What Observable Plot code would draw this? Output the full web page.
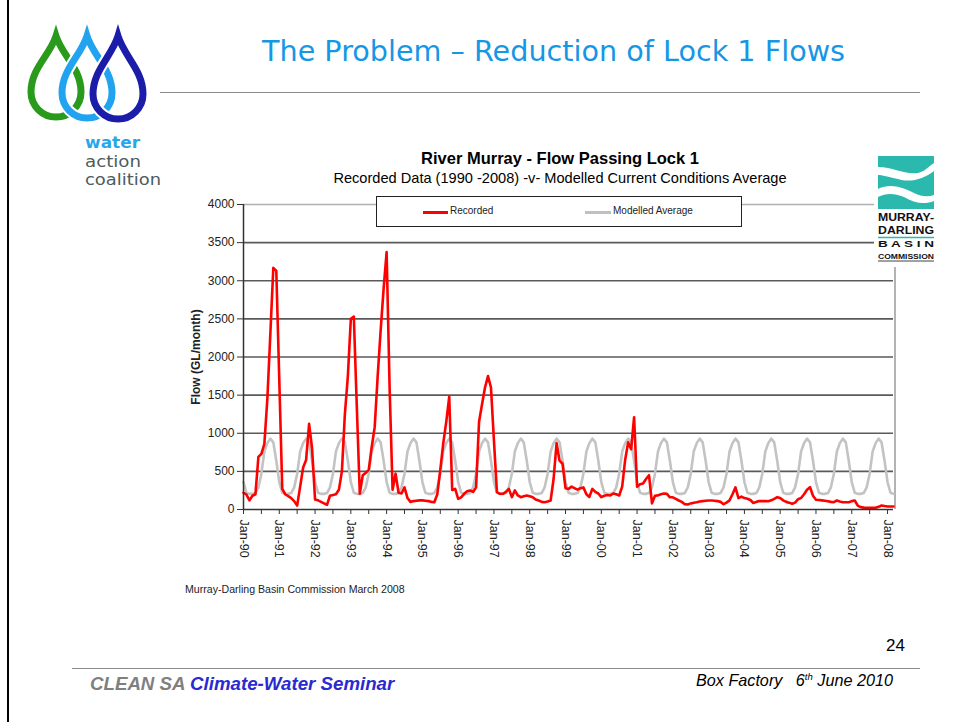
<!DOCTYPE html>
<html>
<head>
<meta charset="utf-8">
<script src="https://cdn.jsdelivr.net/npm/d3@7"></script>
<script src="https://cdn.jsdelivr.net/npm/@observablehq/plot@0.6"></script>
<style>
  html, body { margin: 0; padding: 0; background: #fff; }
  #slide { position: relative; width: 956px; height: 722px; overflow: hidden; background: #fff; font-family: "Liberation Sans", Arial, sans-serif; }
  .abs { position: absolute; white-space: nowrap; }
</style>
</head>
<body>
<div id="slide">
  <div class="abs" style="left:7px;top:0;width:2px;height:722px;background:#000"></div>
  <svg class="abs" style="left:0;top:0" width="956" height="195" id="hdr"></svg>
  <div class="abs" style="left:160px;top:92px;width:760px;height:1px;background:#8a8a8a"></div>

  <div class="abs" id="ctitle" style="left:0;width:1120px;top:149px;text-align:center;font-weight:bold;font-size:16.5px;color:#000">River Murray - Flow Passing Lock 1</div>
  <div class="abs" id="csub" style="left:0;width:1120px;top:170px;text-align:center;font-size:14.6px;color:#000">Recorded Data (1990 -2008) -v- Modelled Current Conditions Average</div>

  <div class="abs" id="chart" style="left:170px;top:190px"></div>

  <div class="abs" id="legend" style="left:376px;top:196px;width:364px;height:29px;border:1.5px solid #222;background:#fff">
    <div class="abs" style="left:46px;top:14px;width:25px;height:3px;background:#ff0000"></div>
    <div class="abs" style="left:73px;top:8px;font-size:10px;color:#222">Recorded</div>
    <div class="abs" style="left:208px;top:14px;width:26px;height:3px;background:#c0c0c0"></div>
    <div class="abs" style="left:236px;top:8px;font-size:10px;color:#222">Modelled Average</div>
  </div>

  <svg class="abs" style="left:874px;top:153px" width="66" height="114" id="mdbc"></svg>

  <div class="abs" style="left:185px;top:583px;font-size:10.6px;color:#222">Murray-Darling Basin Commission March 2008</div>
  <div class="abs" style="left:886px;top:636px;font-size:17px;color:#000">24</div>
  <div class="abs" style="left:72px;top:668px;width:848px;height:1px;background:#8a8a8a"></div>
  <div class="abs" style="left:90px;top:673px;font-size:18.7px;font-weight:bold;font-style:italic;color:#7f7f7f">CLEAN SA <span style="color:#2a2ad2">Climate-Water Seminar</span></div>
  <div class="abs" style="left:696px;top:671px;font-size:16.2px;font-style:italic;color:#000">Box Factory &nbsp;&nbsp;6<sup style="font-size:9.5px">th</sup> June 2010</div>
</div>
<script>
// ---- data (GL/month), monthly Jan-1990 .. Mar-2008 ----
const recorded1990s = [
  220, 195, 120, 180, 200, 690, 730, 860, 1450, 2300, 3170, 3130,   // 1990
  1700, 270, 200, 175, 150, 110, 52, 300, 550, 650, 1124, 800,      // 1991
  130, 120, 100, 80, 60, 180, 190, 200, 260, 500, 1250, 1750,       // 1992
  2500, 2530, 1350, 206, 450, 480, 520, 820, 1080, 1750, 2350, 2900,// 1993
  3375, 1600, 260, 470, 220, 210, 290, 150, 100, 110, 115, 120,     // 1994
  120, 115, 110, 100, 95, 200, 520, 870, 1150, 1480, 255, 270,      // 1995
  140, 160, 206, 240, 250, 230, 290, 1150, 1380, 1600, 1750, 1600,  // 1996
  900, 227, 206, 206, 230, 271, 162, 250, 184, 162, 175, 184,       // 1997
  175, 162, 130, 118, 100, 96, 105, 118, 400, 870, 640, 600,        // 1998
  280, 270, 300, 280, 260, 280, 290, 200, 165, 270, 230, 210        // 1999
];
const recorded2000s = [
  162, 180, 190, 184, 210, 200, 184, 300, 650, 880, 790, 1210,      // 2000
  300, 330, 340, 400, 450, 80, 180, 185, 200, 210, 206, 160,        // 2001
  160, 140, 118, 100, 70, 66, 80, 88, 95, 105, 110, 115,            // 2002
  118, 118, 115, 110, 100, 70, 90, 120, 200, 290, 150, 170,         // 2003
  150, 140, 125, 85, 100, 110, 110, 110, 109, 120, 140, 162,        // 2004
  150, 120, 100, 90, 75, 90, 135, 150, 200, 258, 293, 180,          // 2005
  127, 125, 120, 115, 109, 100, 96, 118, 105, 96, 96, 96,           // 2006
  110, 118, 52, 31, 25, 22, 22, 22, 22, 35, 52, 45,                 // 2007
  40, 39, 39                                                        // 2008
];
const modelled = [
  360, 220, 205, 205, 215, 290, 470, 760, 870, 930, 880, 640,
  360, 220, 205, 205, 215, 290, 470, 760, 870, 930, 880, 640,
  360, 220, 205, 205, 215, 290, 470, 760, 870, 930, 880, 640,
  360, 220, 205, 205, 215, 290, 470, 760, 870, 930, 880, 640,
  360, 220, 205, 205, 215, 290, 470, 760, 870, 930, 880, 640,
  360, 220, 205, 205, 215, 290, 470, 760, 870, 930, 880, 640,
  360, 220, 205, 205, 215, 290, 470, 760, 870, 930, 880, 640,
  360, 220, 205, 205, 215, 290, 470, 760, 870, 930, 880, 640,
  360, 220, 205, 205, 215, 290, 470, 760, 870, 930, 880, 640,
  360, 220, 205, 205, 215, 290, 470, 760, 870, 930, 880, 640,
  360, 220, 205, 205, 215, 290, 470, 760, 870, 930, 880, 640,
  360, 220, 205, 205, 215, 290, 470, 760, 870, 930, 880, 640,
  360, 220, 205, 205, 215, 290, 470, 760, 870, 930, 880, 640,
  360, 220, 205, 205, 215, 290, 470, 760, 870, 930, 880, 640,
  360, 220, 205, 205, 215, 290, 470, 760, 870, 930, 880, 640,
  360, 220, 205, 205, 215, 290, 470, 760, 870, 930, 880, 640,
  360, 220, 205, 205, 215, 290, 470, 760, 870, 930, 880, 640,
  360, 220, 205, 205, 215, 290, 470, 760, 870, 930, 880, 640,
  360, 220, 205
];
const tickLabels = ["Jan-90","Jan-91","Jan-92","Jan-93","Jan-94","Jan-95","Jan-96","Jan-97","Jan-98",
                    "Jan-99","Jan-00","Jan-01","Jan-02","Jan-03","Jan-04","Jan-05","Jan-06","Jan-07","Jan-08"];
const yTicks = [0, 500, 1000, 1500, 2000, 2500, 3000, 3500, 4000];
const yLabel = "Flow (GL/month)";

const recorded = recorded1990s.concat(recorded2000s);
const rows = recorded.map((v, i) => ({m: i, recorded: v, modelled: modelled[i]}));
const lastMonth = rows.length - 1;
const halfYearTicks = d3.range(0, lastMonth + 1, 6);

const chart = Plot.plot({
  width: 735, height: 380,
  marginLeft: 73, marginRight: 12, marginTop: 14, marginBottom: 61,
  style: {fontFamily: "'Liberation Sans', Arial, sans-serif", fontSize: "12px", color: "#222", background: "transparent", overflow: "visible"},
  x: {domain: [0, lastMonth]},
  y: {domain: [0, 4000]},
  marks: [
    Plot.ruleY(yTicks.filter(d => d > 0 && d < 4000), {stroke: "#5a5a5a", strokeWidth: 1.6}),
    Plot.ruleY([4000], {stroke: "#b0b0b0", strokeWidth: 1.5}),
    Plot.ruleX([lastMonth], {stroke: "#9a9a9a", strokeWidth: 1.5, dx: 1.5}),
    Plot.line(rows, {x: "m", y: "modelled", stroke: "#c3c3c3", strokeWidth: 2.6}),
    Plot.line(rows, {x: "m", y: "recorded", stroke: "#ff0000", strokeWidth: 2.6}),
    Plot.ruleX([0], {stroke: "#333", strokeWidth: 1.5}),
    Plot.ruleY([0], {stroke: "#333", strokeWidth: 1.5}),
    Plot.axisY({ticks: yTicks, tickSize: 6, tickPadding: 3, tickFormat: d => String(d), label: null, stroke: "#333"}),
    Plot.axisX({ticks: halfYearTicks, tickSize: 5, tickPadding: 5, tickRotate: 90,
                tickFormat: m => (m % 12 === 0 ? tickLabels[m / 12] : ""), label: null, stroke: "#333", fontSize: 12.5}),
    Plot.text([yLabel], {text: d => d, frameAnchor: "left", textAnchor: "middle", dx: -47, rotate: -90, fontWeight: "bold", fontSize: 12, fill: "#222"})
  ]
});
document.getElementById("chart").appendChild(chart);

// ---- header: slide title and logo ----
const hdr = d3.select("#hdr");
hdr.append("text").attr("x", 262).attr("y", 61)
  .attr("font-family", "DejaVu Sans").attr("font-size", 29).attr("fill", "#1597e5")
  .attr("textLength", 583).attr("lengthAdjust", "spacingAndGlyphs")
  .text("The Problem – Reduction of Lock 1 Flows");
function drop(cx, ty, cy, r) {
  const k = ty + (cy - ty) * 0.35;
  return `M${cx},${ty} C${cx - r * 0.25},${k} ${cx - r},${cy - r * 0.95} ${cx - r},${cy} A${r},${r} 0 0 0 ${cx + r},${cy} C${cx + r},${cy - r * 0.95} ${cx + r * 0.25},${k} ${cx},${ty} Z`;
}
const drops = [[56, 36, 92, 25, "#2a9a1c"], [87, 36, 93, 25, "#22a3ef"], [118, 36, 94, 25, "#1c1caa"]];
drops.forEach(([cx, ty, cy, r, c]) => {
  hdr.append("path").attr("d", drop(cx, ty, cy, r)).attr("fill", "none").attr("stroke", "#fff").attr("stroke-width", 11);
  hdr.append("path").attr("d", drop(cx, ty, cy, r)).attr("fill", "none").attr("stroke", c).attr("stroke-width", 7);
});
const wac = [["water", 148, 55, "#29a6ea", "bold"], ["action", 166.5, 56, "#4d5c5c", "normal"], ["coalition", 185, 76, "#4d5c5c", "normal"]];
wac.forEach(([t, y, w, c, fw]) => hdr.append("text").attr("x", 85).attr("y", y)
  .attr("font-family", "DejaVu Sans").attr("font-size", 15.5).attr("font-weight", fw).attr("fill", c)
  .attr("textLength", w).attr("lengthAdjust", "spacingAndGlyphs").text(t));

// ---- MDBC logo ----
const md = d3.select("#mdbc");
md.append("rect").attr("width", 66).attr("height", 114).attr("fill", "#fff");
md.append("path").attr("d", "M4,3 L60,3 L60,56 L4,56 Z").attr("fill", "#2bb9ad");
md.append("path").attr("d", "M4,14 C20,14 30,22 44,20 C52,18 56,12 60,10 L60,18 C50,26 36,30 24,26 C14,24 8,22 4,22 Z").attr("fill", "#fff");
md.append("path").attr("d", "M4,36 C16,30 28,34 40,40 C48,44 54,44 60,42 L60,48 C50,52 40,50 30,44 C20,40 12,40 4,44 Z").attr("fill", "#fff");
const mt = [["MURRAY-", 68, 10.5], ["DARLING", 81, 10.5], ["B A S I N", 94, 9], ["COMMISSION", 106, 6.5]];
mt.forEach(([t, y, s]) => md.append("text").attr("x", 4).attr("y", y).attr("font-family", "'Liberation Sans Narrow', 'Liberation Sans', Arial")
  .attr("font-weight", "bold").attr("font-size", s).attr("textLength", 56).attr("lengthAdjust", "spacingAndGlyphs").attr("fill", "#111").text(t));
md.append("line").attr("x1", 4).attr("x2", 60).attr("y1", 84.5).attr("y2", 84.5).attr("stroke", "#2bb9ad").attr("stroke-width", 1.5);
md.append("line").attr("x1", 4).attr("x2", 60).attr("y1", 108).attr("y2", 108).attr("stroke", "#111").attr("stroke-width", 0.8);
</script>
</body>
</html>
